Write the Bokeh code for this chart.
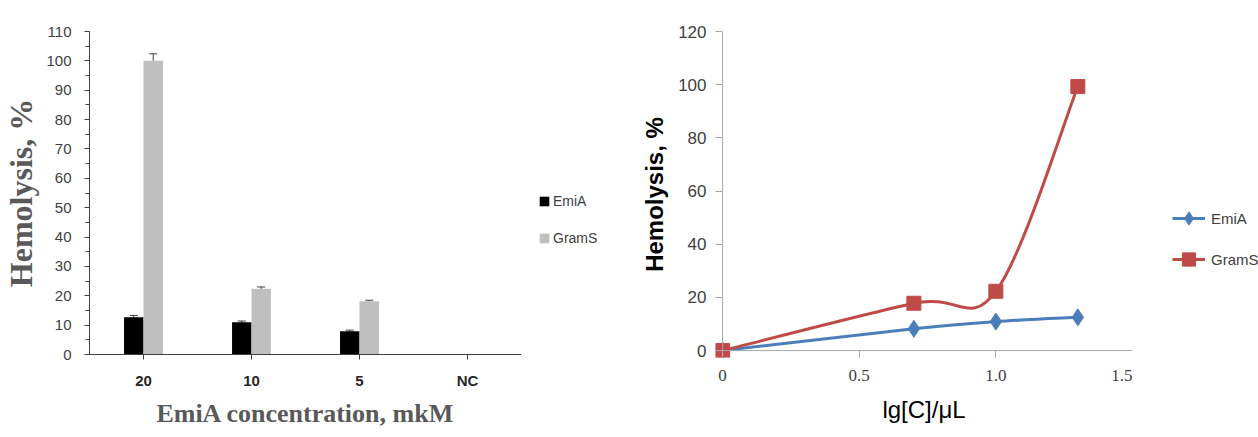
from bokeh.plotting import figure
from bokeh.layouts import row
from bokeh.models import (ColumnDataSource, Range1d, FactorRange, Legend, LegendItem,
                          Whisker, SingleIntervalTicker, FixedTicker, Span)
from bokeh.transform import dodge
from bokeh.embed import file_html
from bokeh.resources import INLINE

# ---------------- data ----------------
categories = ["20", "10", "5", "NC"]
emia_bar = [12.7, 11.0, 7.9, 0.0]
grams_bar = [100.0, 22.4, 18.1, 0.0]
emia_err = [0.6, 0.4, 0.4, 0.0]
grams_err = [2.4, 0.6, 0.4, 0.0]

lg_c = [0.0, 0.7, 1.0, 1.3]
emia_line = [0.0, 8.2, 10.9, 12.5]
grams_line = [0.0, 17.8, 22.3, 99.3]

right_x_ticks = [0.0, 0.5, 1.0, 1.5]
right_x_labels = ["0", "0.5", "1.0", "1.5"]
series_names = ["EmiA", "GramS"]

SANS = "Liberation Sans"
SERIF = "Liberation Serif"
black = "#000000"
gray = "#BFBFBF"
blue = "#4A7EBB"
red = "#BE4B48"
NAN = float("nan")


def legend_fig(width, height):
    f = figure(width=width, height=height, min_border=0, x_range=Range1d(0, 1),
               y_range=Range1d(0, 1), x_axis_location=None, y_axis_location=None,
               output_backend="svg", toolbar_location=None)
    f.outline_line_color = None
    f.xgrid.visible = False
    f.ygrid.visible = False
    return f


# ---------------- left: bar chart ----------------
p1 = figure(x_range=FactorRange(*categories, range_padding=0), y_range=Range1d(0, 110),
            frame_width=432, frame_height=323, min_border_left=84, min_border_top=28,
            min_border_bottom=86, min_border_right=0,
            output_backend="svg", toolbar_location=None)
p1.outline_line_color = None
p1.xgrid.visible = False
p1.ygrid.visible = False

src = ColumnDataSource(dict(cat=categories, emia=emia_bar, grams=grams_bar))
p1.vbar(x=dodge("cat", -0.09, range=p1.x_range), top="emia", width=0.18,
        source=src, fill_color=black, line_color=None)
p1.vbar(x=dodge("cat", 0.09, range=p1.x_range), top="grams", width=0.18,
        source=src, fill_color=gray, line_color=None)

for vals, errs, off in ((emia_bar, emia_err, -0.09), (grams_bar, grams_err, 0.09)):
    idx = [i for i in range(len(categories)) if errs[i] > 0]
    wsrc = ColumnDataSource(dict(cat=[categories[i] for i in idx],
                                 upper=[vals[i] + errs[i] for i in idx],
                                 lower=[vals[i] - errs[i] for i in idx]))
    w = Whisker(base=dodge("cat", off, range=p1.x_range), upper="upper", lower="lower",
                source=wsrc, line_color="#404040", line_width=1)
    w.upper_head.size = 8
    w.lower_head.size = 8
    w.upper_head.line_color = "#404040"
    w.lower_head.line_color = "#404040"
    p1.add_layout(w)

p1.yaxis.ticker = SingleIntervalTicker(interval=10, num_minor_ticks=2)
p1.yaxis.axis_label = "Hemolysis, %"
p1.yaxis.axis_label_text_font = SERIF
p1.yaxis.axis_label_text_font_style = "bold"
p1.yaxis.axis_label_text_font_size = "32px"
p1.yaxis.axis_label_text_color = "#595959"
p1.yaxis.axis_label_standoff = 4
p1.yaxis.major_label_text_font = SANS
p1.yaxis.major_label_text_font_size = "15px"
p1.yaxis.major_label_text_color = "#404040"
p1.yaxis.major_label_standoff = 13
p1.yaxis.major_tick_out = 5
p1.yaxis.major_tick_in = 0
p1.yaxis.minor_tick_out = 4
p1.yaxis.minor_tick_in = 0
p1.yaxis.axis_line_color = "#404040"
p1.yaxis.major_tick_line_color = "#404040"
p1.yaxis.minor_tick_line_color = "#404040"

p1.xaxis.axis_label = "EmiA concentration, mkM"
p1.xaxis.axis_label_text_font = SERIF
p1.xaxis.axis_label_text_font_style = "bold"
p1.xaxis.axis_label_text_font_size = "26px"
p1.xaxis.axis_label_text_color = "#595959"
p1.xaxis.axis_label_standoff = 7
p1.xaxis.major_label_text_font = SANS
p1.xaxis.major_label_text_font_style = "bold"
p1.xaxis.major_label_text_font_size = "15px"
p1.xaxis.major_label_text_color = "#262626"
p1.xaxis.major_label_standoff = 12
p1.xaxis.major_tick_out = 5
p1.xaxis.major_tick_in = 0
p1.xaxis.axis_line_color = "#404040"
p1.xaxis.major_tick_line_color = "#404040"

# legend of the bar chart (separate blank panel to the right of the plot)
L1 = legend_fig(104, 437)
lr_e = L1.vbar(x=[NAN], top=[NAN], width=0.1, fill_color=black, line_color=None)
lr_g = L1.vbar(x=[NAN], top=[NAN], width=0.1, fill_color=gray, line_color=None)
leg1 = Legend(items=[LegendItem(label=series_names[0], renderers=[lr_e]),
                     LegendItem(label=series_names[1], renderers=[lr_g])],
              location=(17, 105), glyph_width=12, glyph_height=12, label_height=16,
              label_standoff=3, spacing=21, padding=0, margin=0,
              label_text_font=SANS, label_text_font_size="14px",
              label_text_color="#404040", border_line_color=None,
              background_fill_alpha=0)
L1.add_layout(leg1, "center")


# ---------------- right: line chart ----------------
def bezier_parts(xs, ys):
    n = len(xs)
    out = dict(x0=[], y0=[], x1=[], y1=[], cx0=[], cy0=[], cx1=[], cy1=[])
    for i in range(n - 1):
        ip = i - 1 if i > 0 else i
        inx = i + 2 if i + 2 < n else i + 1
        out["x0"].append(xs[i]); out["y0"].append(ys[i])
        out["x1"].append(xs[i + 1]); out["y1"].append(ys[i + 1])
        out["cx0"].append(xs[i] + (xs[i + 1] - xs[ip]) / 6)
        out["cy0"].append(ys[i] + (ys[i + 1] - ys[ip]) / 6)
        out["cx1"].append(xs[i + 1] - (xs[inx] - xs[i]) / 6)
        out["cy1"].append(ys[i + 1] - (ys[inx] - ys[i]) / 6)
    return out


# a few pixels of padding so the origin marker is not clipped;
# the visible axis lines are drawn at zero with spans
p2 = figure(x_range=Range1d(-0.026, 1.5), y_range=Range1d(-2.6, 120),
            frame_width=417, frame_height=326, min_border_left=90, min_border_top=31,
            min_border_bottom=80, min_border_right=0,
            output_backend="svg", toolbar_location=None)
p2.outline_line_color = None
p2.xgrid.visible = False
p2.ygrid.visible = False

p2.add_layout(Span(location=0, dimension="width", line_color="#A6A6A6", line_width=1))
p2.add_layout(Span(location=0, dimension="height", line_color="#A6A6A6", line_width=1))

p2.bezier(source=ColumnDataSource(bezier_parts(lg_c, emia_line)),
          x0="x0", y0="y0", x1="x1", y1="y1", cx0="cx0", cy0="cy0", cx1="cx1", cy1="cy1",
          line_color=blue, line_width=3)
p2.bezier(source=ColumnDataSource(bezier_parts(lg_c, grams_line)),
          x0="x0", y0="y0", x1="x1", y1="y1", cx0="cx0", cy0="cy0", cx1="cx1", cy1="cy1",
          line_color=red, line_width=3)
p2.scatter(lg_c, emia_line, marker="diamond", size=17, fill_color=blue, line_color=blue)
p2.scatter(lg_c, grams_line, marker="square", size=14, fill_color=red, line_color=red)

p2.yaxis.ticker = SingleIntervalTicker(interval=20, num_minor_ticks=0)
p2.yaxis.axis_label = "Hemolysis, %"
p2.yaxis.axis_label_text_font = SANS
p2.yaxis.axis_label_text_font_style = "bold"
p2.yaxis.axis_label_text_font_size = "24px"
p2.yaxis.axis_label_text_color = "#000000"
p2.yaxis.axis_label_standoff = 7
p2.yaxis.major_label_text_font = SANS
p2.yaxis.major_label_text_font_size = "17px"
p2.yaxis.major_label_text_color = "#404040"
p2.yaxis.major_label_standoff = 9
p2.yaxis.major_tick_out = 0
p2.yaxis.major_tick_in = 7
p2.yaxis.axis_line_color = None
p2.yaxis.major_tick_line_color = "#A6A6A6"

p2.xaxis.ticker = FixedTicker(ticks=right_x_ticks, minor_ticks=[])
p2.xaxis.major_label_overrides = dict(zip(right_x_ticks, right_x_labels))
p2.xaxis.axis_label = "lg[C]/μL"
p2.xaxis.axis_label_text_font = SANS
p2.xaxis.axis_label_text_font_style = "normal"
p2.xaxis.axis_label_text_font_size = "24px"
p2.xaxis.axis_label_text_color = "#000000"
p2.xaxis.axis_label_standoff = 12
p2.xaxis.major_label_text_font = SERIF
p2.xaxis.major_label_text_font_size = "17px"
p2.xaxis.major_label_text_color = "#404040"
p2.xaxis.major_label_standoff = 12
p2.xaxis.major_tick_out = 0
p2.xaxis.major_tick_in = 7
p2.xaxis.axis_line_color = None
p2.xaxis.major_tick_line_color = "#A6A6A6"

# legend of the line chart
L2 = legend_fig(131, 437)
ll_e = L2.line(x=[NAN], y=[NAN], line_color=blue, line_width=3)
lm_e = L2.scatter(x=[NAN], y=[NAN], marker="diamond", size=17, fill_color=blue, line_color=blue)
ll_g = L2.line(x=[NAN], y=[NAN], line_color=red, line_width=3)
lm_g = L2.scatter(x=[NAN], y=[NAN], marker="square", size=14, fill_color=red, line_color=red)
leg2 = Legend(items=[LegendItem(label=series_names[0], renderers=[ll_e, lm_e]),
                     LegendItem(label=series_names[1], renderers=[ll_g, lm_g])],
              location=(40, 75), glyph_width=33, glyph_height=34, label_height=34,
              label_standoff=6, spacing=7, padding=0, margin=0,
              label_text_font=SANS, label_text_font_size="15px",
              label_text_color="#404040", border_line_color=None,
              background_fill_alpha=0)
L2.add_layout(leg2, "center")

layout = row(p1, L1, p2, L2)
open("out.html", "w").write(file_html(layout, INLINE))
